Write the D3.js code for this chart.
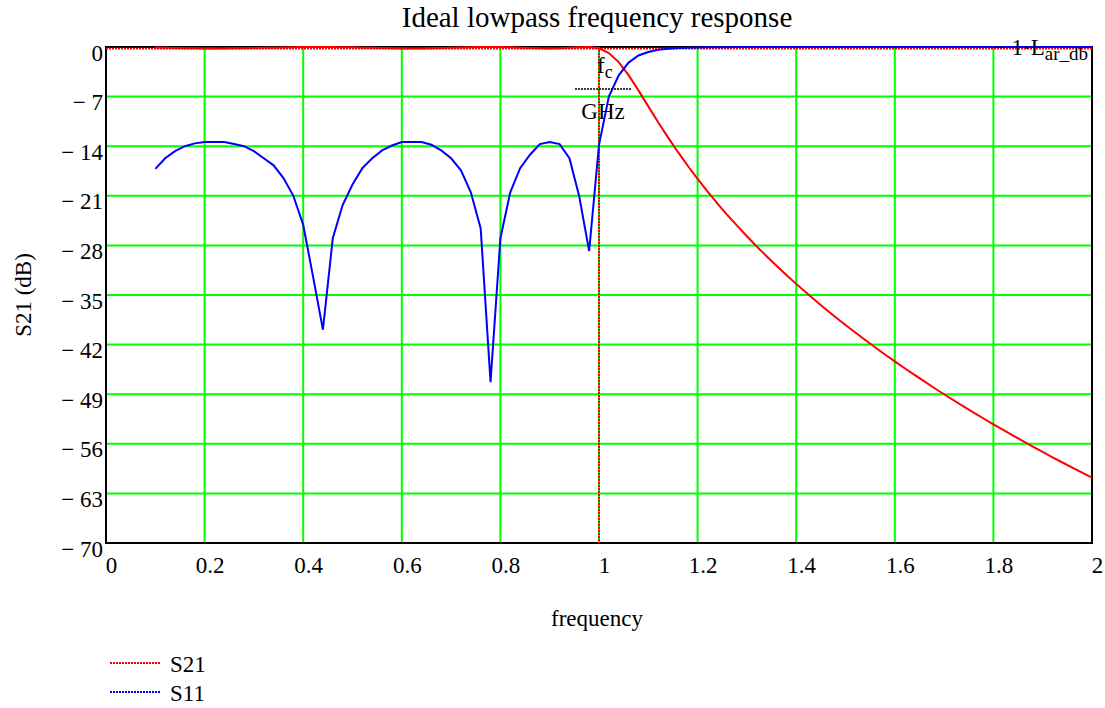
<!DOCTYPE html>
<html lang="en">
<head>
  <meta charset="UTF-8">
  <title>Ideal lowpass frequency response</title>
  <script src="https://d3js.org/d3.v7.min.js"></script>
  <style>
    body { margin: 0; background: #fff; }
    text { font-family: "Liberation Serif", "Times New Roman", serif; fill: #000; }
    .grid line { stroke: #00ff00; stroke-width: 2; }
  </style>
</head>
<body>
  <svg id="chart" width="1105" height="708"></svg>
  <script>
    // frequency samples (normalised, f / fc)
    const freq = [
      0.10,0.12,0.14,0.16,0.18,0.20,0.22,0.24,0.26,0.28,
      0.30,0.32,0.34,0.36,0.38,0.40,0.42,0.44,0.46,0.48,
      0.50,0.52,0.54,0.56,0.58,0.60,0.62,0.64,0.66,0.68,
      0.70,0.72,0.74,0.76,0.78,0.80,0.82,0.84,0.86,0.88,
      0.90,0.92,0.94,0.96,0.98,1.00,1.02,1.04,1.06,1.08,
      1.10,1.12,1.14,1.16,1.18,1.20,1.22,1.24,1.26,1.28,
      1.30,1.32,1.34,1.36,1.38,1.40,1.42,1.44,1.46,1.48,
      1.50,1.52,1.54,1.56,1.58,1.60,1.62,1.64,1.66,1.68,
      1.70,1.72,1.74,1.76,1.78,1.80,1.82,1.84,1.86,1.88,
      1.90,1.92,1.94,1.96,1.98,2.00
    ];

    // S21 in dB
    const s21 = [
      -0.08,-0.12,-0.15,-0.18,-0.19,-0.20,-0.20,-0.20,-0.19,-0.18,
      -0.15,-0.12,-0.09,-0.06,-0.04,-0.01,0,0,-0.01,-0.03,
      -0.05,-0.09,-0.12,-0.15,-0.18,-0.20,-0.20,-0.20,-0.18,-0.15,
      -0.12,-0.08,-0.04,-0.01,0,-0.01,-0.04,-0.09,-0.13,-0.19,
      -0.20,-0.19,-0.12,-0.03,-0.01,-0.19,-0.85,-2.13,-3.97,-6.12,
      -8.38,-10.61,-12.76,-14.81,-16.76,-18.61,-20.38,-22.07,-23.68,-25.22,
      -26.71,-28.15,-29.53,-30.87,-32.17,-33.43,-34.65,-35.84,-37.00,-38.13,
      -39.23,-40.30,-41.36,-42.38,-43.39,-44.37,-45.34,-46.28,-47.20,-48.12,
      -49.01,-49.89,-50.75,-51.60,-52.43,-53.25,-54.05,-54.84,-55.63,-56.39,
      -57.15,-57.90,-58.64,-59.37,-60.08,-60.78
    ];

    // S11 in dB
    const s11 = [
      -17.2,-15.7,-14.7,-14.0,-13.6,-13.4,-13.4,-13.4,-13.7,-14.0,
      -14.7,-15.7,-16.7,-18.5,-21.0,-25.1,-32.4,-39.9,-27.0,-22.3,
      -19.4,-17.1,-15.7,-14.6,-13.9,-13.4,-13.4,-13.4,-13.8,-14.6,
      -15.7,-17.4,-20.5,-25.6,-47.3,-27.0,-20.5,-17.1,-15.2,-13.7,
      -13.4,-13.7,-15.7,-21.1,-28.8,-13.8,-7.0,-4.0,-2.2,-1.2,
      -0.7,-0.4,-0.24,-0.15,-0.09,-0.06,-0.04,-0.03,-0.02,-0.01,
      -0.01,-0.01,0,0,0,0,0,0,0,0,
      0,0,0,0,0,0,0,0,0,0,
      0,0,0,0,0,0,0,0,0,0,
      0,0,0,0,0,0
    ];

    const xTicks = [0, 0.2, 0.4, 0.6, 0.8, 1, 1.2, 1.4, 1.6, 1.8, 2];
    const xTickLabels = ['0', '0.2', '0.4', '0.6', '0.8', '1', '1.2', '1.4', '1.6', '1.8', '2'];
    const yTicks = [0, -7, -14, -21, -28, -35, -42, -49, -56, -63, -70];
    const yTickLabels = ['0', '\u2212 7', '\u2212 14', '\u2212 21', '\u2212 28', '\u2212 35',
                         '\u2212 42', '\u2212 49', '\u2212 56', '\u2212 63', '\u2212 70'];

    // markers: cutoff frequency and passband ripple
    const fcMarker = 1;
    const larDb = 0.2;

    const svg = d3.select('#chart');
    const plotL = 106, plotR = 1092, plotT = 47, plotB = 543;
    const fontSize = 23;

    const x = d3.scaleLinear().domain([0, 2]).range([plotL, plotR]);
    const y = d3.scaleLinear().domain([-70, 0]).range([plotB, plotT]);

    // grid lines
    const grid = svg.append('g').attr('class', 'grid');
    grid.selectAll('line.v')
      .data(xTicks.slice(1, -1))
      .enter().append('line')
      .attr('class', 'v')
      .attr('x1', d => x(d)).attr('x2', d => x(d))
      .attr('y1', plotT).attr('y2', plotB);
    grid.selectAll('line.h')
      .data(yTicks.slice(1, -1))
      .enter().append('line')
      .attr('class', 'h')
      .attr('x1', plotL).attr('x2', plotR)
      .attr('y1', d => y(d)).attr('y2', d => y(d));

    // frame
    svg.append('rect')
      .attr('x', plotL).attr('y', plotT)
      .attr('width', plotR - plotL).attr('height', plotB - plotT)
      .attr('fill', 'none').attr('stroke', '#000').attr('stroke-width', 2);

    // axes (labels only, the frame draws the lines)
    const xAxis = svg.append('g')
      .attr('transform', `translate(0,${plotB})`)
      .call(d3.axisBottom(x).tickValues(xTicks).tickSize(0).tickPadding(0)
        .tickFormat((d, i) => xTickLabels[i]));
    xAxis.select('.domain').remove();
    xAxis.selectAll('text')
      .attr('dx', 5).attr('dy', 0).attr('y', 30)
      .style('font-size', fontSize + 'px')
      .style('font-family', '"Liberation Serif", serif');

    const yAxis = svg.append('g')
      .attr('transform', `translate(${plotL},0)`)
      .call(d3.axisLeft(y).tickValues(yTicks).tickSize(0).tickPadding(0)
        .tickFormat((d, i) => yTickLabels[i]));
    yAxis.select('.domain').remove();
    yAxis.selectAll('text')
      .attr('x', -3).attr('dy', 0).attr('y', 13)
      .style('font-size', fontSize + 'px')
      .style('font-family', '"Liberation Serif", serif');

    // marker lines
    svg.append('line')
      .attr('x1', x(fcMarker)).attr('x2', x(fcMarker))
      .attr('y1', plotT).attr('y2', plotB)
      .attr('stroke', '#ff0000').attr('stroke-width', 2)
      .attr('stroke-dasharray', '2,1');
    svg.append('line')
      .attr('x1', plotL).attr('x2', plotR)
      .attr('y1', y(-larDb)).attr('y2', y(-larDb))
      .attr('stroke', '#ff0000').attr('stroke-width', 2)
      .attr('stroke-dasharray', '2,1');

    // curves
    const pts = (vals) => freq.map((f, i) => [f, vals[i]]);
    const line = d3.line().x(d => x(d[0])).y(d => y(d[1]));

    svg.append('path')
      .attr('d', line(pts(s21)))
      .attr('fill', 'none').attr('stroke', '#ff0000').attr('stroke-width', 2);
    svg.append('path')
      .attr('d', line(pts(s11)))
      .attr('fill', 'none').attr('stroke', '#0000ff').attr('stroke-width', 2);

    // marker labels
    const fcLabel = svg.append('text')
      .attr('x', 597).attr('y', 73)
      .style('font-size', fontSize + 'px');
    fcLabel.append('tspan').text('f');
    fcLabel.append('tspan').attr('dy', 5).style('font-size', '18px').text('c');
    svg.append('line')
      .attr('x1', 575).attr('x2', 631).attr('y1', 89).attr('y2', 89)
      .attr('stroke', '#000').attr('stroke-width', 1.5)
      .attr('stroke-dasharray', '2,1');
    svg.append('text')
      .attr('x', 603).attr('y', 119)
      .attr('text-anchor', 'middle')
      .style('font-size', fontSize + 'px')
      .text('GHz');

    const larLabel = svg.append('text')
      .attr('x', 1088).attr('y', 55)
      .attr('text-anchor', 'end')
      .style('font-size', fontSize + 'px');
    larLabel.append('tspan').text('\u2212 1\u00b7L');
    larLabel.append('tspan').attr('dy', 5).style('font-size', '19px').text('ar_db');

    // title and axis titles
    svg.append('text')
      .attr('x', 597).attr('y', 27)
      .attr('text-anchor', 'middle')
      .style('font-size', '29px')
      .text('Ideal lowpass frequency response');

    svg.append('text')
      .attr('x', 597).attr('y', 626)
      .attr('text-anchor', 'middle')
      .style('font-size', fontSize + 'px')
      .text('frequency');

    svg.append('text')
      .attr('transform', 'translate(31,295) rotate(-90)')
      .attr('text-anchor', 'middle')
      .style('font-size', fontSize + 'px')
      .text('S21 (dB)');

    // legend
    const legend = [
      { name: 'S21', color: '#ff0000', y: 663 },
      { name: 'S11', color: '#0000ff', y: 692 }
    ];
    const lg = svg.append('g').selectAll('g').data(legend).enter().append('g');
    lg.append('line')
      .attr('x1', 110).attr('x2', 160)
      .attr('y1', d => d.y).attr('y2', d => d.y)
      .attr('stroke', d => d.color).attr('stroke-width', 2)
      .attr('stroke-dasharray', '2,1');
    lg.append('text')
      .attr('x', 170).attr('y', d => d.y + 9)
      .style('font-size', fontSize + 'px')
      .text(d => d.name);
  </script>
</body>
</html>
